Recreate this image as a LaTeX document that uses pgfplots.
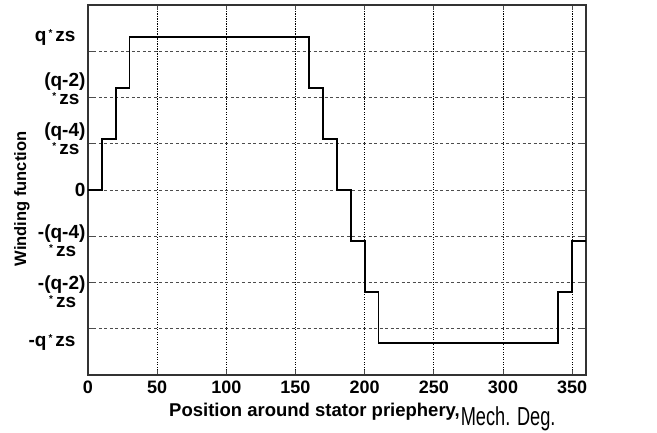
\documentclass[border=0pt]{standalone}
\usepackage{pgfplots}
\pgfplotsset{compat=1.18}
\usepackage{fontspec}
\setmainfont{Liberation Sans}
% small raised multiplication star used in the level labels
\newcommand{\st}{\hspace{2pt}{\fontsize{10}{10}\selectfont\raisebox{5pt}{*}}\hspace{3pt}}
% "zs" followed by the trailing blank of the original labels
\newcommand{\zs}{zs\hspace{10pt}}
\begin{document}
\begin{tikzpicture}
\begin{axis}[
  scale only axis,
  width=498pt, height=370pt,
  xmin=0, xmax=360, ymin=-8, ymax=8,
  xtick={0,50,...,350},
  ytick={-6,-4,...,6},
  yticklabels={},
  extra y ticks={6.6,4.4,2.2,0,-2.2,-4.4,-6.6},
  extra y tick labels={q\st\zs,{(q-2)\\\st\zs},{(q-4)\\\st\zs},0,{-(q-4)\\\st\zs},{-(q-2)\\\st\zs},-q\st\zs},
  extra y tick style={grid=none, major tick length=0pt,
    yticklabel style={align=center, font=\fontsize{19}{18}\selectfont\bfseries, xshift=1pt}},
  tick align=inside,
  major tick length=5pt,
  tick style={black!70, line width=0.8pt},
  xmajorgrids, ymajorgrids,
  x grid style={black, line width=0.7pt, dash pattern=on 1.5pt off 1.5pt on 0.5pt off 1.5pt},
  y grid style={black!70, line width=0.9pt, dash pattern=on 3pt off 2.5pt},
  axis line style={black!80, line width=1.2pt},
  /pgf/number format/assume math mode=true,
  ticklabel style={font=\fontsize{18}{18}\selectfont\bfseries},
  xticklabel style={yshift=-2pt},
  xlabel={\bfseries Position around stator priephery,\hspace{1pt}\raisebox{-9pt}{\scalebox{0.7}[1]{\fontsize{26}{26}\selectfont\mdseries Mech. Deg.}}},
  xlabel style={font=\fontsize{18.5}{18.5}\selectfont, anchor=base west, inner sep=0pt,
    at={(axis description cs:0.1627,-0.1135)}},
  ylabel={\bfseries Winding function},
  ylabel style={font=\fontsize{16.5}{16.5}\selectfont, anchor=center, inner sep=0pt,
    at={(axis description cs:-0.1325,0.4757)}},
]
\addplot[const plot, black, line width=1.8pt] coordinates {
  (0,0) (10,2.2) (20,4.4) (30,6.6) (160,4.4) (170,2.2) (180,0)
  (190,-2.2) (200,-4.4) (210,-6.6) (340,-4.4) (350,-2.2) (360,-2.2)
};
\end{axis}
\path[use as bounding box] (-88pt,-57pt) rectangle (569pt,375pt);
\end{tikzpicture}
\end{document}
